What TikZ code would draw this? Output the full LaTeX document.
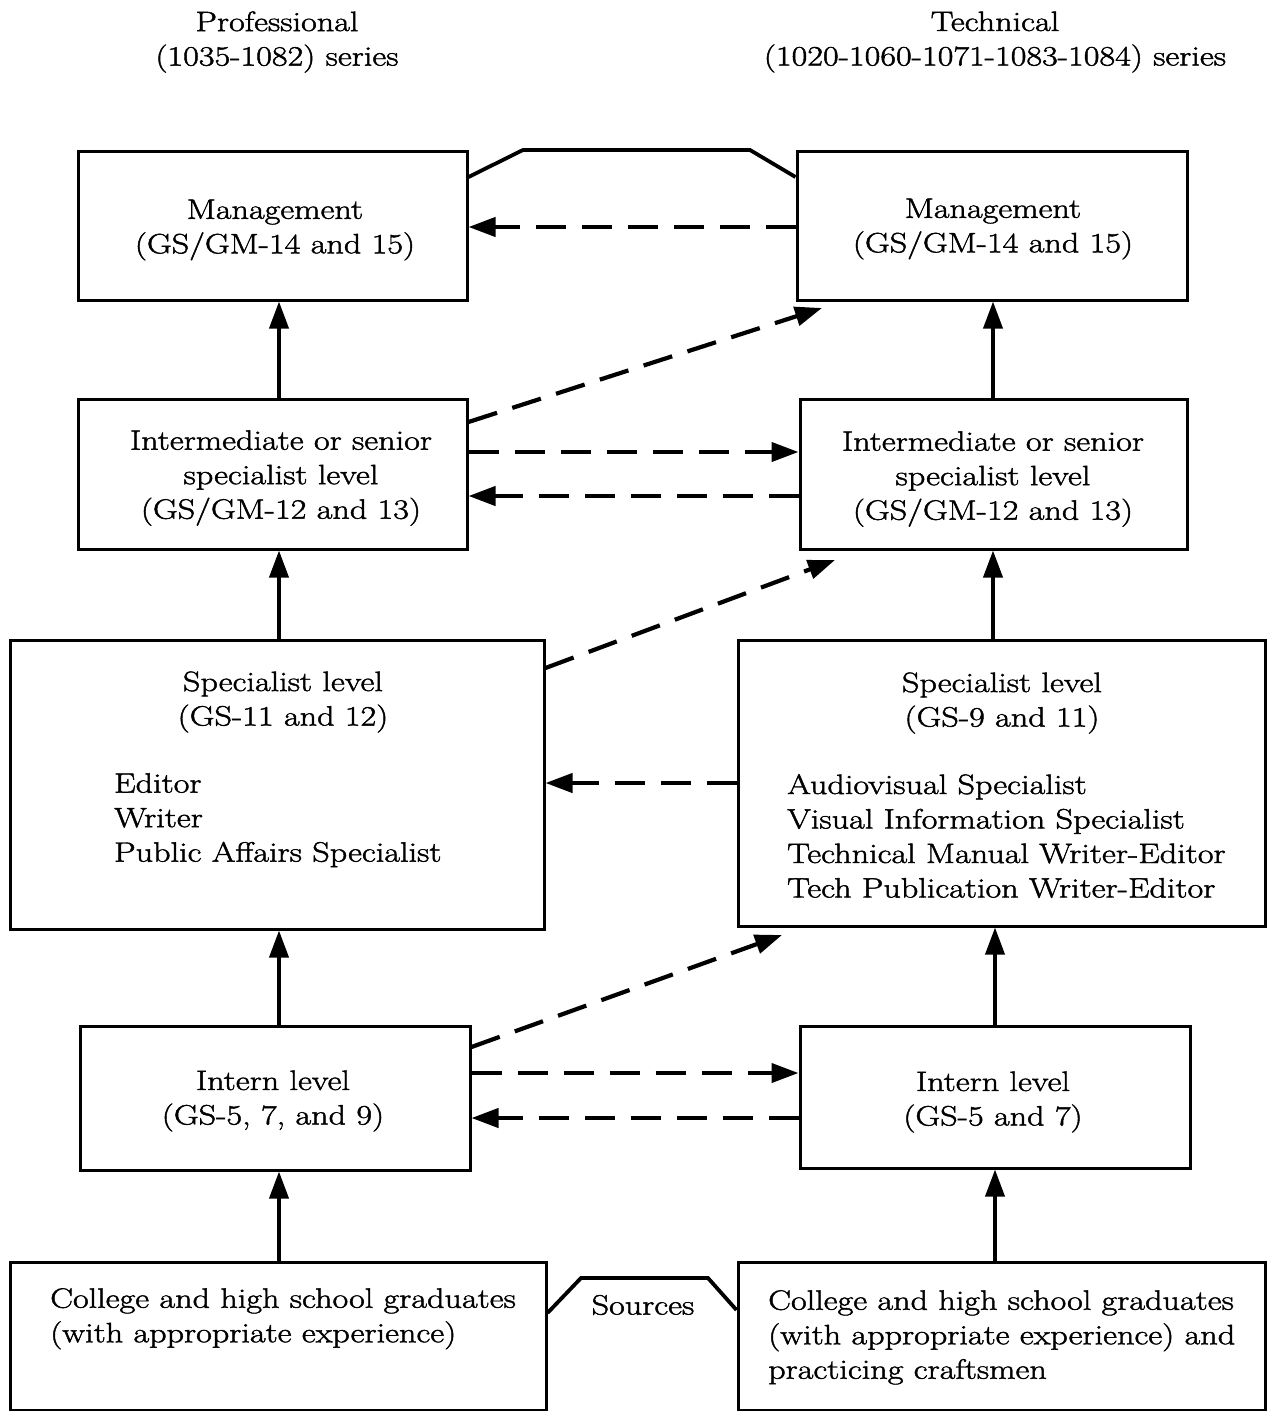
\documentclass[tikz,border=0pt]{standalone}
\usepackage{fontspec}
\setmainfont{Latin Modern Roman}[FakeStretch=1.22, FakeBold=1.6]
\usetikzlibrary{arrows.meta}
\begin{document}
\begin{tikzpicture}[x=1pt,y=-1pt,
  txt/.style={font=\fontsize{28}{34.5}\selectfont, inner sep=0pt},
  txtc/.style={txt, align=center},
  txtl/.style={txt, align=left, anchor=north west},
  boxnode/.style={draw, line width=3pt, inner sep=0pt},
  up/.style={line width=3.8pt, -{Triangle[length=27pt,width=19pt]}},
  dsh/.style={line width=4.2pt, dash pattern=on 30pt off 16pt, -{Triangle[length=27pt,width=19pt]}},
  link/.style={line width=3.8pt, line join=miter}
]
\useasboundingbox (0,0) rectangle (1273,1411);
\fill[white] (0,0) rectangle (1273,1411);

% headers
\node[txtc] (hl) at (277,42) {Professional\\(1035-1082) series};
\node[txtc] (hr) at (995,42) {Technical\\(1020-1060-1071-1083-1084) series};

% boxes
\node[boxnode, minimum width=389pt, minimum height=149pt] (L1) at (272.5,225.5) {};
\node[boxnode, minimum width=390pt, minimum height=149pt] (R1) at (992,225.5) {};
\node[boxnode, minimum width=389pt, minimum height=150pt] (L2) at (272.5,474) {};
\node[boxnode, minimum width=387pt, minimum height=150pt] (R2) at (993.5,474) {};
\node[boxnode, minimum width=534pt, minimum height=289pt] (L3) at (277,784.5) {};
\node[boxnode, minimum width=527pt, minimum height=286pt] (R3) at (1001.5,783) {};
\node[boxnode, minimum width=390pt, minimum height=144pt] (L4) at (275,1098) {};
\node[boxnode, minimum width=390pt, minimum height=142pt] (R4) at (995,1097) {};
\node[boxnode, minimum width=536pt, minimum height=148pt] (L5) at (278,1336) {};
\node[boxnode, minimum width=527pt, minimum height=148pt] (R5) at (1001.5,1336) {};

% texts
\node[txtc] (tL1) at (275,230) {Management\\(GS/GM-14 and 15)};
\node[txtc] (tR1) at (993,229) {Management\\(GS/GM-14 and 15)};
\node[txtc] (tL2) at (281,478) {Intermediate or senior\\specialist level\\(GS/GM-12 and 13)};
\node[txtc] (tR2) at (993,479) {Intermediate or senior\\specialist level\\(GS/GM-12 and 13)};
\node[txtc] (tL3) at (283,702) {Specialist level\\(GS-11 and 12)};
\node[txtl] (lL3) at (114,773) {Editor\\Writer\\Public Affairs Specialist};
\node[txtc] (tR3) at (1002,703) {Specialist level\\(GS-9 and 11)};
\node[txtl] (lR3) at (787,774) {Audiovisual Specialist\\Visual Information Specialist\\Technical Manual Writer-Editor\\Tech Publication Writer-Editor};
\node[txtc] (tL4) at (273,1101) {Intern level\\(GS-5, 7, and 9)};
\node[txtc] (tR4) at (993,1102) {Intern level\\(GS-5 and 7)};
\node[txtl] (tL5) at (50,1288) {College and high school graduates\\(with appropriate experience)};
\node[txtl] (tR5) at (768,1290) {College and high school graduates\\(with appropriate experience) and\\practicing craftsmen};
\node[txt] (src) at (643,1305) {Sources};

% solid up arrows
\draw[up] (L2.north -| 279,0) -- (L1.south -| 279,0);
\draw[up] (L3.north -| 279,0) -- (L2.south -| 279,0);
\draw[up] (L4.north -| 279,0) -- (L3.south -| 279,0);
\draw[up] (L5.north -| 279,0) -- (L4.south -| 279,0);
\draw[up] (R2.north -| 993,0) -- (R1.south -| 993,0);
\draw[up] (R3.north -| 993,0) -- (R2.south -| 993,0);
\draw[up] (R4.north -| 995,0) -- (R3.south -| 995,0);
\draw[up] (R5.north -| 995,0) -- (R4.south -| 995,0);

% dashed arrows
\draw[dsh] (R1.west |- 0,227) -- (L1.east |- 0,227);
\draw[dsh] (L2.east |- 0,422) -- (822,308);
\draw[dsh] (L2.east |- 0,452) -- (R2.west |- 0,452);
\draw[dsh] (R2.west |- 0,496) -- (L2.east |- 0,496);
\draw[dsh] (L3.east |- 0,668) -- (835,560);
\draw[dsh] (R3.west |- 0,783) -- (L3.east |- 0,783);
\draw[dsh] (L4.east |- 0,1047) -- (782,935);
\draw[dsh] (L4.east |- 0,1073) -- (R4.west |- 0,1073);
\draw[dsh] (R4.west |- 0,1118) -- (L4.east |- 0,1118);

% linking brackets
\draw[link] (L1.east |- 0,177) -- (523,150) -- (750,150) -- (R1.west |- 0,177);
\draw[link] (L5.east |- 0,1313) -- (581,1278) -- (708,1278) -- (R5.west |- 0,1310);
\end{tikzpicture}
\end{document}
